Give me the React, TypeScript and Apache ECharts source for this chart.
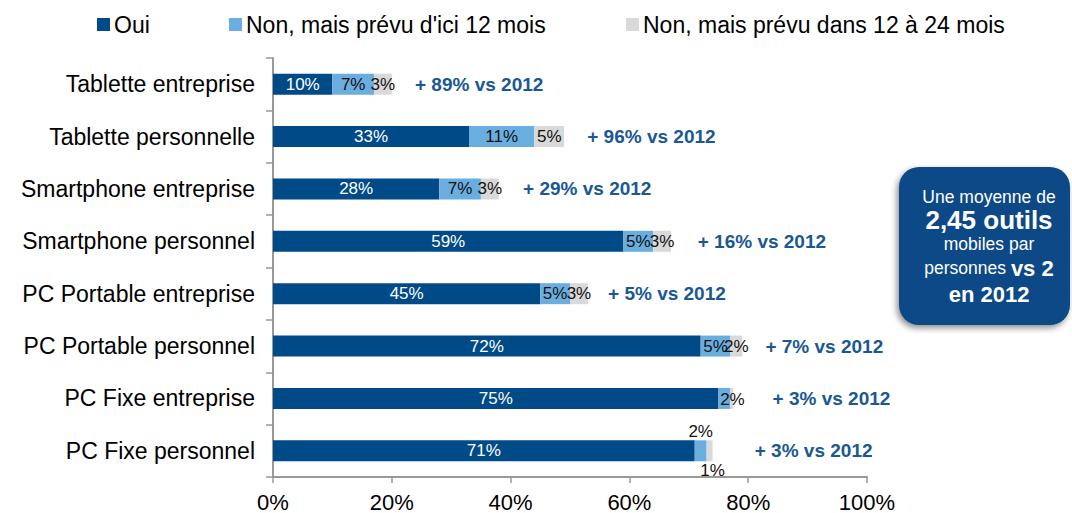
import React, { useEffect, useRef } from "react";
import * as echarts from "echarts";

const categories = [
  "Tablette entreprise",
  "Tablette personnelle",
  "Smartphone entreprise",
  "Smartphone personnel",
  "PC Portable entreprise",
  "PC Portable personnel",
  "PC Fixe entreprise",
  "PC Fixe personnel",
];
const seriesNames = ["Oui", "Non, mais prévu d'ici 12 mois", "Non, mais prévu dans 12 à 24 mois"];
const oui = [10, 33, 28, 59, 45, 72, 75, 71];
const prevu12 = [7, 11, 7, 5, 5, 5, 2, 2];
const prevu24 = [3, 5, 3, 3, 3, 2, 0.5, 1];
const notes = [
  "+ 89% vs 2012",
  "+ 96% vs 2012",
  "+ 29% vs 2012",
  "+ 16% vs 2012",
  "+ 5% vs 2012",
  "+ 7% vs 2012",
  "+ 3% vs 2012",
  "+ 3% vs 2012",
];
const xTicks = [0, 20, 40, 60, 80, 100];

// annotation anchors (in axis % units)
const noteAnchor = [23.9, 52.9, 42.1, 71.5, 56.4, 82.9, 84.1, 81.1];

const FONT = "'Liberation Sans', Arial, sans-serif";
const DARK = "#004B87";
const LIGHT = "#6AAEE0";
const GREY = "#D9D9D9";
const NOTE = "#1A5893";

export default function App() {
  const ref = useRef<HTMLDivElement>(null);
  useEffect(() => {
    if (!ref.current) return;
    const chart = echarts.init(ref.current, null, { renderer: "svg" });

    const mk = (vals: number[], idx: number) =>
      vals.map((v, i) => {
        const item: any = { value: v };
        if (v < 1) item.label = { show: false };
        if (idx === 1 && i === 6) item.label = { offset: [8, 1] };
        if (idx === 1 && i === 7) item.label = { position: "top", distance: 0 };
        if (idx === 2 && i === 7) item.label = { position: "bottom", distance: 1, offset: [3, 0] };
        return item;
      });

    const labelBase = {
      show: true,
      position: "inside",
      fontFamily: FONT,
      fontSize: 17,
      formatter: (p: any) => `${Math.round(p.value)}%`,
    };

    const legendBase = {
      top: 8,
      icon: "rect",
      itemWidth: 13,
      itemHeight: 13,
      itemGap: 4,
      textStyle: { fontFamily: FONT, fontSize: 23, color: "#000", padding: [0, 0, 0, -1] },
    };

    chart.setOption({
      animation: false,
      backgroundColor: "#fff",
      legend: [
        { ...legendBase, left: 92, data: [seriesNames[0]] },
        { ...legendBase, left: 224, data: [seriesNames[1]] },
        { ...legendBase, left: 621, data: [seriesNames[2]] },
      ],
      grid: { left: 273, right: 205, top: 58, bottom: 35 },
      xAxis: {
        type: "value",
        min: 0,
        max: 100,
        interval: 20,
        splitLine: { show: false },
        axisLine: { show: true, lineStyle: { color: "#999", width: 2 } },
        axisTick: { show: true, length: 6, lineStyle: { color: "#999", width: 1.5 } },
        axisLabel: {
          margin: 14,
          fontFamily: FONT,
          fontSize: 22,
          color: "#000",
          formatter: (v: number) => (xTicks.includes(v) ? `${v}%` : ""),
        },
      },
      yAxis: {
        type: "category",
        inverse: true,
        data: categories,
        axisLine: { show: true, lineStyle: { color: "#999", width: 2 } },
        axisTick: { show: true, length: 7, lineStyle: { color: "#999", width: 1.5 } },
        axisLabel: { margin: 18, fontFamily: FONT, fontSize: 23, color: "#000" },
      },
      series: [
        {
          name: seriesNames[0],
          type: "bar",
          stack: "s",
          barWidth: 21,
          itemStyle: { color: DARK },
          label: { ...labelBase, color: "#fff" },
          data: mk(oui, 0),
        },
        {
          name: seriesNames[1],
          type: "bar",
          stack: "s",
          barWidth: 21,
          itemStyle: { color: LIGHT },
          label: { ...labelBase, color: "#111" },
          data: mk(prevu12, 1),
        },
        {
          name: seriesNames[2],
          type: "bar",
          stack: "s",
          barWidth: 21,
          itemStyle: { color: GREY },
          label: { ...labelBase, color: "#111" },
          data: mk(prevu24, 2),
        },
        {
          type: "scatter",
          symbolSize: 0,
          silent: true,
          z: 5,
          itemStyle: { opacity: 1 },
          label: {
            show: true,
            position: "right",
            distance: 0,
            fontFamily: FONT,
            fontSize: 19,
            fontWeight: "bold",
            color: NOTE,
            opacity: 1,
            formatter: (p: any) => notes[p.dataIndex],
          },
          data: categories.map((c, i) => [noteAnchor[i], c]),
        },
      ],
      graphic: [
        {
          type: "rect",
          shape: { x: 899, y: 167, width: 171, height: 158, r: 20 },
          style: {
            fill: "#0A4A86",
            shadowBlur: 6,
            shadowColor: "rgba(0,0,0,0.45)",
            shadowOffsetX: -2,
            shadowOffsetY: 3,
          },
          z: 10,
        },
        {
          type: "text",
          x: 989,
          y: 246,
          z: 11,
          style: {
            text:
              "{r|Une moyenne de}\n{b|2,45 outils}\n{r|mobiles par}\n{r|personnes }{m|vs 2}\n{m|en 2012}",
            align: "center",
            verticalAlign: "middle",
            fill: "#fff",
            rich: {
              r: { fontFamily: FONT, fontSize: 17.5, color: "#fff", lineHeight: 23, align: "center" },
              b: { fontFamily: FONT, fontSize: 26, fontWeight: "bold", color: "#fff", lineHeight: 24, align: "center" },
              m: { fontFamily: FONT, fontSize: 22, fontWeight: "bold", color: "#fff", lineHeight: 26, align: "center" },
            },
          },
        },
      ],
    });
    return () => chart.dispose();
  }, []);
  return (
    <div
      ref={ref}
      style={{ position: "fixed", left: 0, top: 0, width: 1072, height: 513, background: "#fff" }}
    />
  );
}
